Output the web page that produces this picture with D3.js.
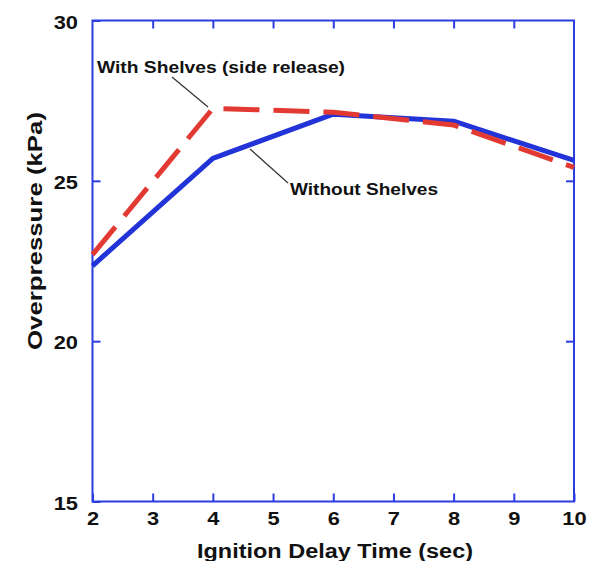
<!DOCTYPE html>
<html>
<head>
<meta charset="utf-8">
<script src="https://cdn.jsdelivr.net/npm/d3@7"></script>
<style>
    body { margin: 0; background: #fff; }
    text { font-family: "Liberation Sans", Arial, sans-serif; fill: #111; }
</style>
</head>
<body>
<div id="chart"></div>
<script>
// Data
const ignitionDelay = [2, 4, 6, 8, 10];
const withoutShelves = [22.35, 25.7, 27.08, 26.86, 25.64];
const withShelves = [22.7, 27.26, 27.14, 26.74, 25.42];
const xTicks = [2, 3, 4, 5, 6, 7, 8, 9, 10];
const yTicks = [15, 20, 25, 30];

const margin = { top: 20.5, right: 21, bottom: 59.5, left: 92.5 };
const width = 595 - margin.left - margin.right;
const height = 561 - margin.top - margin.bottom;

const frameColor = "#2b3de0";
const blue = "#2234d8";
const red = "#e23a32";
const stretch = 1.15; // tick labels in the figure are a wide bold face

const svg = d3.select("#chart")
    .append("svg")
    .attr("width", 595)
    .attr("height", 561)
    .append("g")
    .attr("transform", `translate(${margin.left},${margin.top})`);

const x = d3.scaleLinear().domain([2, 10]).range([0, width]);
const y = d3.scaleLinear().domain([15, 30]).range([height, 0]);

// Inward ticks on all four sides
const tickLen = 8;
const addAxis = (axis, transform) => {
    const g = svg.append("g").attr("transform", transform).call(axis);
    g.select(".domain").remove();
    g.selectAll("line").attr("stroke", frameColor).attr("stroke-width", 2);
    return g;
};

const bottom = addAxis(d3.axisBottom(x).tickValues(xTicks).tickSize(-tickLen).tickFormat(d3.format("d")),
    `translate(0,${height})`);
addAxis(d3.axisTop(x).tickValues(xTicks.slice(1, -1)).tickSize(-tickLen).tickFormat(""), "translate(0,0)");
const left = addAxis(d3.axisLeft(y).tickValues(yTicks).tickSize(-tickLen).tickFormat(d3.format("d")),
    "translate(0,0)");
addAxis(d3.axisRight(y).tickValues(yTicks.slice(1, -1)).tickSize(-tickLen).tickFormat(""), `translate(${width},0)`);

bottom.selectAll("text")
    .attr("y", 10)
    .attr("dy", "0.71em")
    .attr("transform", `scale(${stretch},1)`)
    .style("font-size", "19px").style("font-weight", "bold").attr("fill", "#111");
left.selectAll("text")
    .attr("x", -14.5 / stretch)
    .attr("dy", "0.4em")
    .attr("transform", `scale(${stretch},1)`)
    .style("font-size", "19px").style("font-weight", "bold").attr("fill", "#111");

// Frame
svg.append("rect")
    .attr("width", width)
    .attr("height", height)
    .attr("fill", "none")
    .attr("stroke", frameColor)
    .attr("stroke-width", 2);

const line = d3.line()
    .x((d, i) => x(ignitionDelay[i]))
    .y(d => y(d));

svg.append("path")
    .datum(withoutShelves)
    .attr("d", line)
    .attr("fill", "none")
    .attr("stroke", blue)
    .attr("stroke-width", 5)
    .attr("stroke-linejoin", "round");

svg.append("path")
    .datum(withShelves)
    .attr("d", line)
    .attr("fill", "none")
    .attr("stroke", red)
    .attr("stroke-width", 5)
    .attr("stroke-dasharray", "36,14");

// Annotations with leader lines
svg.append("line")
    .attr("x1", 172 - margin.left).attr("y1", 77 - margin.top)
    .attr("x2", 208 - margin.left).attr("y2", 107 - margin.top)
    .attr("stroke", "#333").attr("stroke-width", 1.2);
svg.append("text")
    .attr("x", 97 - margin.left)
    .attr("y", 73 - margin.top)
    .attr("textLength", 248)
    .attr("lengthAdjust", "spacingAndGlyphs")
    .style("font-size", "16px").style("font-weight", "bold")
    .text("With Shelves (side release)");

svg.append("line")
    .attr("x1", 250 - margin.left).attr("y1", 149 - margin.top)
    .attr("x2", 288 - margin.left).attr("y2", 183 - margin.top)
    .attr("stroke", "#333").attr("stroke-width", 1.2);
svg.append("text")
    .attr("x", 290 - margin.left)
    .attr("y", 195 - margin.top)
    .attr("textLength", 148)
    .attr("lengthAdjust", "spacingAndGlyphs")
    .style("font-size", "16px").style("font-weight", "bold")
    .text("Without Shelves");

// Axis titles
svg.append("text")
    .attr("x", 197 - margin.left)
    .attr("y", 558 - margin.top)
    .attr("textLength", 276)
    .attr("lengthAdjust", "spacingAndGlyphs")
    .style("font-size", "20px").style("font-weight", "bold")
    .text("Ignition Delay Time (sec)");

svg.append("text")
    .attr("transform", `translate(${42 - margin.left},${350 - margin.top}) rotate(-90)`)
    .attr("textLength", 238)
    .attr("lengthAdjust", "spacingAndGlyphs")
    .style("font-size", "20px").style("font-weight", "bold")
    .text("Overpressure (kPa)");
</script>
</body>
</html>
